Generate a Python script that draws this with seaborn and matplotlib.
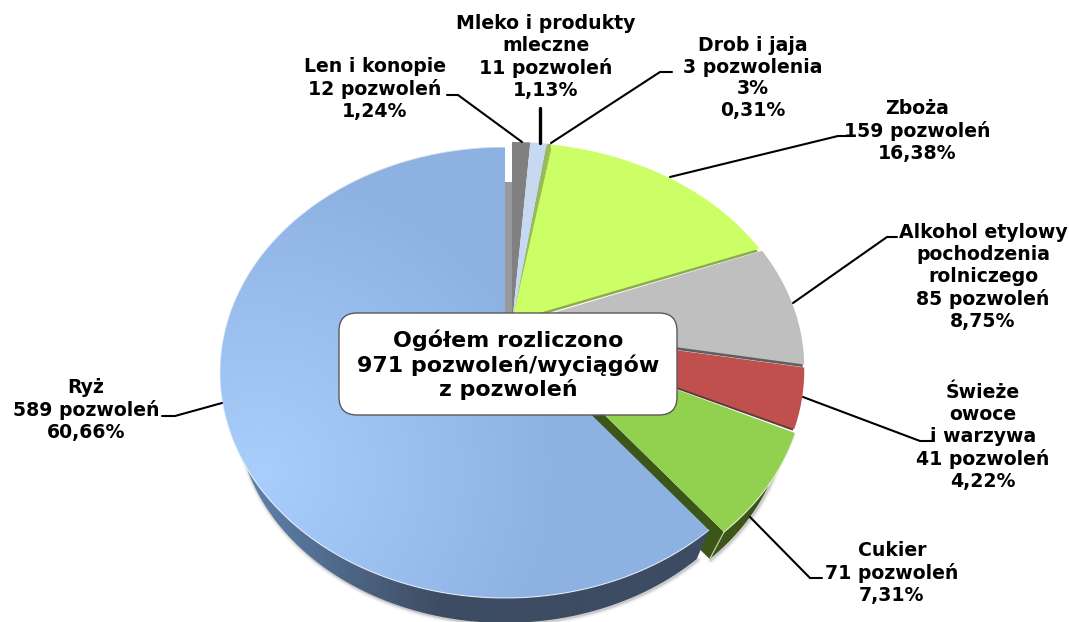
import matplotlib.pyplot as plt
import numpy as np
import seaborn as sns
from matplotlib.colors import to_rgb
from matplotlib.patches import FancyBboxPatch, Polygon

# clockwise from 12 o'clock
categories = ["Len i konopie", "Mleko i produkty mleczne", "Drob i jaja", "Zboża",
              "Alkohol etylowy", "Świeże owoce i warzywa", "Cukier", "Ryż"]
shares = [1.24, 1.13, 0.31, 16.38, 8.75, 4.22, 7.31, 60.66]
slice_colors = ["#808080", "#C6D9F1", "#9BBB59", "#CCFF66", "#BFBFBF", "#C0504D", "#92D050", "#8DB2E2"]
wall_colors = ["#9A9A9A", "#9FB3CC", "#76923C", "#8CAB4E", "#5F5F5F", "#5E3A3A", "#3C5519", "#3D4C62"]
# where each slice tip sits after the explosion, px
tips = [(512, 325), (512, 325), (512, 325), (512, 321), (512, 325), (512, 328), (520, 332), (505, 330)]
widths = [280, 280, 280, 284, 287, 287, 280, 280]
heights = [217.5, 217.5, 217.5, 212, 217.5, 217.5, 217.5, 217.5]

labels = [
    "Len i konopie\n12 pozwoleń\n1,24%",
    "Mleko i produkty\nmleczne\n11 pozwoleń\n1,13%",
    "Drob i jaja\n3 pozwolenia\n3%\n0,31%",
    "Zboża\n159 pozwoleń\n16,38%",
    "Alkohol etylowy\npochodzenia\nrolniczego\n85 pozwoleń\n8,75%",
    "Świeże\nowoce\ni warzywa\n41 pozwoleń\n4,22%",
    "Cukier\n71 pozwoleń\n7,31%",
    "Ryż\n589 pozwoleń\n60,66%",
]
label_pos = [(375, 89), (546, 57), (753, 78), (917, 131), (983, 277), (983, 437), (892, 573), (86, 410)]
leaders = [
    [(447, 95), (458, 95), (522, 142)],
    [(539.5, 108), (539.5, 143)],
    [(672, 72), (660, 72), (551, 143)],
    [(670, 177), (838, 136), (852, 136)],
    [(793, 303), (887, 237), (897, 237)],
    [(803, 397), (920, 441), (932, 441)],
    [(750, 517), (810, 578), (822, 578)],
    [(222, 403), (175, 416), (162, 416)],
]
center_text = "Ogółem rozliczono\n971 pozwoleń/wyciągów\nz pozwoleń"

PERSP = 0.1885
DEPTH = 41


def project(theta, tip, width, height, r=1.0):
    ux, uy = r * np.sin(theta), r * np.cos(theta)
    den = 1 + PERSP * uy
    return np.column_stack([tip[0] + width * ux / den, tip[1] - height * uy / den])


def lower(pts, tip, shrink):
    out = np.array(tip) + shrink * (pts - np.array(tip))
    out[:, 1] += DEPTH
    return out


def gradient(ax, patch, func):
    xx, yy = np.meshgrid(np.arange(0, 1069, 2), np.arange(0, 622, 2))
    img = func(xx, yy)
    im = ax.imshow(img, extent=(0, 1069, 622, 0), aspect="auto", zorder=patch.get_zorder(),
                   interpolation="bilinear")
    im.set_clip_path(patch)


def blend(c1, c2, t):
    c1, c2 = np.array(to_rgb(c1)), np.array(to_rgb(c2))
    return c1 + (c2 - c1) * t[..., None]


sns.set_style("white")
fig = plt.figure(figsize=(10.69, 6.22), dpi=100)
ax = fig.add_axes([0, 0, 1, 1])
sns.despine(ax=ax, left=True, bottom=True, right=True, top=True)
ax.set_axis_off()

edges = np.radians(np.cumsum([0] + shares) * 360 / sum(shares))
arcs = [np.linspace(a, b, 160) for a, b in zip(edges[:-1], edges[1:])]
faces = [project(arc, tip, w, h) for arc, tip, w, h in zip(arcs, tips, widths, heights)]

# soft shadow under the rice and sugar rims
for i, shrink in ((7, 0.94), (6, 0.93)):
    rim = lower(faces[i], tips[i], shrink)
    for lw, al in ((5, 0.06), (3, 0.10), (1.5, 0.18)):
        ax.plot(rim[:, 0] + 1, rim[:, 1] + 1, color="#555555", lw=lw, alpha=al, zorder=1)

# thin sheets under the small upper slices
for i, drop in ((2, 3.0), (3, 3.0), (4, 2.5), (5, 1.5)):
    under = np.vstack([tips[i], faces[i]]) + np.array([-1.5, drop])
    ax.add_patch(Polygon(under, closed=True, fc=wall_colors[i], ec="none", zorder=2))

# flax slice has a grey inner wall left of it
flax_edge = project(np.zeros(1), tips[0], widths[0], heights[0], r=0.75)[0]
flax_wall = np.array([tips[0], flax_edge, flax_edge + [-7, 0], np.array(tips[0]) + [-7, 0]])
ax.add_patch(Polygon(flax_wall, closed=True, fc=wall_colors[0], ec="none", zorder=2))

# sugar walls
sugar = faces[6]
sugar_tip = tips[6]
sugar_rim = lower(sugar, sugar_tip, 0.93)
outer = np.vstack([sugar, sugar_rim[::-1]])
ax.add_patch(Polygon(outer, closed=True, fc=wall_colors[6], ec="none", zorder=3))
inner = np.array([sugar_tip, sugar[-1], sugar_rim[-1], lower(np.array([sugar_tip], float), sugar_tip, 0.93)[0]])
ax.add_patch(Polygon(inner, closed=True, fc=wall_colors[6], ec="none", zorder=3))
ax.plot([sugar[-1, 0], sugar_rim[-1, 0]], [sugar[-1, 1], sugar_rim[-1, 1]], color="#C9D8B0", lw=0.8, zorder=3.1)

# rice wall
rice = faces[7]
rice_tip = tips[7]
rice_rim = lower(rice, rice_tip, 0.94)
wall = Polygon(np.vstack([rice, rice_rim[::-1]]), closed=True, fc="none", ec="none", zorder=4)
ax.add_patch(wall)
gradient(ax, wall, lambda x, y: blend("#5F81AB", wall_colors[7], np.clip((x - 250) / 190, 0, 1)))

# top faces
for i, face in enumerate(faces):
    pts = np.vstack([tips[i], face])
    if i == 7:
        top = Polygon(pts, closed=True, fc="none", ec="none", zorder=5)
        ax.add_patch(top)
        gradient(ax, top, lambda x, y: blend(
            "#A9CEFC", slice_colors[7], np.clip(np.hypot(x - 260, y - 470) / 300, 0, 1)))
    else:
        ax.add_patch(Polygon(pts, closed=True, fc=slice_colors[i], ec="none", zorder=5))
    if i in (6, 7):
        ax.plot(face[:, 0], face[:, 1], color="white", lw=0.8, alpha=0.7, zorder=5.2)

for pts in leaders:
    xs, ys = zip(*pts)
    ax.plot(xs, ys, color="black", lw=2.4 if len(pts) == 2 else 1.5, zorder=6, solid_joinstyle="miter")

box = FancyBboxPatch((357, 331), 302, 66, boxstyle="round,pad=18,rounding_size=18",
                     fc="white", ec="#595959", lw=1.0, zorder=7)
ax.add_patch(box)
ax.text(508, 365, center_text, ha="center", va="center", fontsize=15.9, fontweight="bold",
        color="black", family="DejaVu Sans", linespacing=1.19, zorder=8)

for text, (x, y) in zip(labels, label_pos):
    ax.text(x, y, text, ha="center", va="center", fontsize=13.6, fontweight="bold",
            color="black", family="DejaVu Sans", linespacing=1.19, zorder=8)

ax.set_xlim(0, 1069)
ax.set_ylim(622, 0)
fig.savefig("out.png", dpi=100, facecolor="white")
